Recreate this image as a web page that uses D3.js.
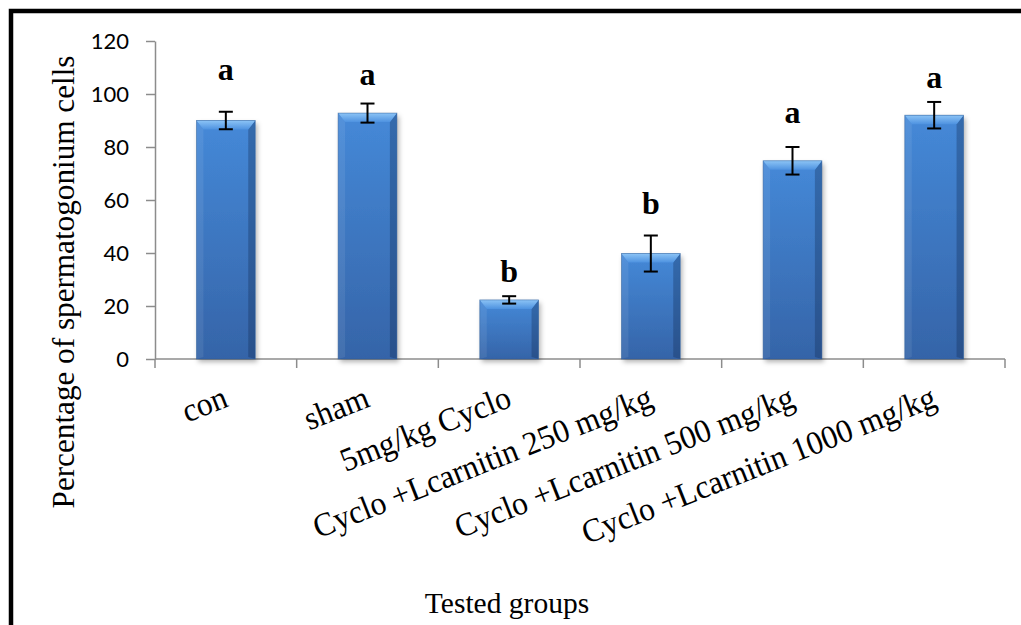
<!DOCTYPE html>
<html>
<head>
<meta charset="utf-8">
<script src="https://cdn.jsdelivr.net/npm/d3@7"></script>
<style>
  body { margin: 0; background: #fff; }
  svg { display: block; }
</style>
</head>
<body>
<script>
// chart data
var groups = ["con", "sham", "5mg/kg Cyclo", "Cyclo +Lcarnitin 250 mg/kg",
  "Cyclo +Lcarnitin 500 mg/kg", "Cyclo +Lcarnitin 1000 mg/kg"];
var means = [90, 92.8, 22.3, 39.8, 74.8, 92];
var errors = [3.3, 3.6, 1.4, 6.8, 5.2, 5];
var letters = ["a", "a", "b", "b", "a", "a"];
var letterLevel = [105.3, 103.4, 29.1, 54.7, 89.1, 102.3];
var yTicks = [0, 20, 40, 60, 80, 100, 120];

var W = 1021, H = 625;
var svg = d3.select("body").append("svg")
  .attr("width", W)
  .attr("height", H);

var defs = svg.append("defs");
var bodyGrad = defs.append("linearGradient").attr("id", "bodyGrad")
  .attr("x1", 0).attr("y1", 0).attr("x2", 0).attr("y2", 1);
bodyGrad.append("stop").attr("offset", "0%").attr("stop-color", "#4589d8");
bodyGrad.append("stop").attr("offset", "100%").attr("stop-color", "#3564a8");

var topGrad = defs.append("linearGradient").attr("id", "topGrad")
  .attr("x1", 0).attr("y1", 0).attr("x2", 0).attr("y2", 1);
topGrad.append("stop").attr("offset", "0%").attr("stop-color", "#8cc4f6");
topGrad.append("stop").attr("offset", "100%").attr("stop-color", "#4e92e0");

var shadow = defs.append("filter").attr("id", "shadow")
  .attr("x", "-20%").attr("y", "-20%").attr("width", "150%").attr("height", "150%");
shadow.append("feDropShadow").attr("dx", 2).attr("dy", 3)
  .attr("stdDeviation", 2.5).attr("flood-color", "#000").attr("flood-opacity", 0.3);

// frame (only left and top edges visible)
svg.append("rect")
  .attr("x", 11).attr("y", 11)
  .attr("width", W).attr("height", H)
  .attr("fill", "none").attr("stroke", "#000").attr("stroke-width", 4.5);

var x = d3.scaleBand().domain(groups).range([155, 1005]).padding(0);
var y = d3.scaleLinear().domain([0, 120]).range([359, 41]);
var bw = x.bandwidth() * 0.415;

var axisCol = "#8c8c8c";
var serif = "'Liberation Serif', 'Times New Roman', serif";

// y axis
var yAxis = svg.append("g")
  .attr("transform", "translate(155,0)")
  .call(d3.axisLeft(y).tickValues(yTicks).tickSize(9).tickSizeOuter(0).tickPadding(17));
yAxis.select(".domain").attr("stroke", axisCol).attr("stroke-width", 1.5);
yAxis.selectAll(".tick line").attr("stroke", axisCol).attr("stroke-width", 1.5);
yAxis.selectAll(".tick text")
  .attr("font-family", "Lato, 'Open Sans', sans-serif")
  .attr("font-size", 22)
  .attr("fill", "#000");

// x axis line and boundary ticks
svg.append("line")
  .attr("x1", x.range()[0]).attr("x2", x.range()[1])
  .attr("y1", y(0)).attr("y2", y(0))
  .attr("stroke", axisCol).attr("stroke-width", 1.5);
var bounds = groups.map(function (g) { return x(g); }).concat([x.range()[1]]);
svg.selectAll(".xtick").data(bounds).enter().append("line")
  .attr("class", "xtick")
  .attr("x1", function (d) { return d; }).attr("x2", function (d) { return d; })
  .attr("y1", y(0)).attr("y2", y(0) + 9)
  .attr("stroke", axisCol).attr("stroke-width", 1.5);

// bars
var bars = svg.selectAll(".bar").data(groups).enter().append("g")
  .attr("class", "bar");

bars.each(function (g, i) {
  var sel = d3.select(this);
  var x0 = x(g) + (x.bandwidth() - bw) / 2, x1 = x0 + bw;
  var yt = y(means[i]), yb = y(0);
  var bev = Math.min(9, (yb - yt) / 2), side = 7;
  sel.append("rect")
    .attr("x", x0).attr("y", yt)
    .attr("width", bw).attr("height", yb - yt)
    .attr("fill", "url(#bodyGrad)")
    .attr("filter", "url(#shadow)");
  // left bevel
  sel.append("polygon")
    .attr("points", [[x0, yt], [x0 + side, yt + bev], [x0 + side, yb - 2], [x0, yb]].join(" "))
    .attr("fill", "#ffffff").attr("fill-opacity", 0.08);
  // right bevel
  sel.append("polygon")
    .attr("points", [[x1, yt], [x1 - side, yt + bev], [x1 - side, yb - 2], [x1, yb]].join(" "))
    .attr("fill", "#0c2448").attr("fill-opacity", 0.3);
  // top bevel
  sel.append("polygon")
    .attr("points", [[x0, yt], [x1, yt], [x1 - side, yt + bev], [x0 + side, yt + bev]].join(" "))
    .attr("fill", "url(#topGrad)");
  sel.append("rect")
    .attr("x", x0).attr("y", yt)
    .attr("width", bw).attr("height", yb - yt)
    .attr("fill", "none").attr("stroke", "#2f5d98").attr("stroke-width", 0.8).attr("stroke-opacity", 0.6);
});

// error bars
var eb = svg.selectAll(".err").data(groups).enter().append("g")
  .attr("class", "err")
  .attr("stroke", "#000").attr("stroke-width", 2);
eb.append("line")
  .attr("x1", function (g) { return x(g) + x.bandwidth() / 2; })
  .attr("x2", function (g) { return x(g) + x.bandwidth() / 2; })
  .attr("y1", function (g, i) { return y(means[i] + errors[i]); })
  .attr("y2", function (g, i) { return y(means[i] - errors[i]); });
[1, -1].forEach(function (s) {
  eb.append("line")
    .attr("x1", function (g) { return x(g) + x.bandwidth() / 2 - 7; })
    .attr("x2", function (g) { return x(g) + x.bandwidth() / 2 + 7; })
    .attr("y1", function (g, i) { return y(means[i] + s * errors[i]); })
    .attr("y2", function (g, i) { return y(means[i] + s * errors[i]); });
});

// significance letters
svg.selectAll(".sig").data(groups).enter().append("text")
  .attr("class", "sig")
  .attr("x", function (g) { return x(g) + x.bandwidth() / 2; })
  .attr("y", function (g, i) { return y(letterLevel[i]); })
  .attr("text-anchor", "middle")
  .attr("font-family", serif)
  .attr("font-weight", "bold")
  .attr("font-size", 32)
  .text(function (g, i) { return letters[i]; });

// category labels (glyphs slightly condensed like the original)
svg.selectAll(".xlab").data(groups).enter().append("text")
  .attr("class", "xlab")
  .attr("transform", function (g) {
    return "translate(" + (x(g) + x.bandwidth() / 2 + 4) + ",406) rotate(-21.5) scale(0.96,1)";
  })
  .attr("text-anchor", "end")
  .attr("font-family", serif)
  .attr("font-size", 33)
  .text(function (g) { return g; });

// axis titles
svg.append("text")
  .attr("transform", "translate(74,282) rotate(-90) scale(0.96,1)")
  .attr("text-anchor", "middle")
  .attr("font-family", serif)
  .attr("font-size", 32.5)
  .text("Percentage of spermatogonium cells");

svg.append("text")
  .attr("x", 507).attr("y", 613)
  .attr("text-anchor", "middle")
  .attr("font-family", serif)
  .attr("font-size", 29.5)
  .text("Tested groups");
</script>
</body>
</html>
